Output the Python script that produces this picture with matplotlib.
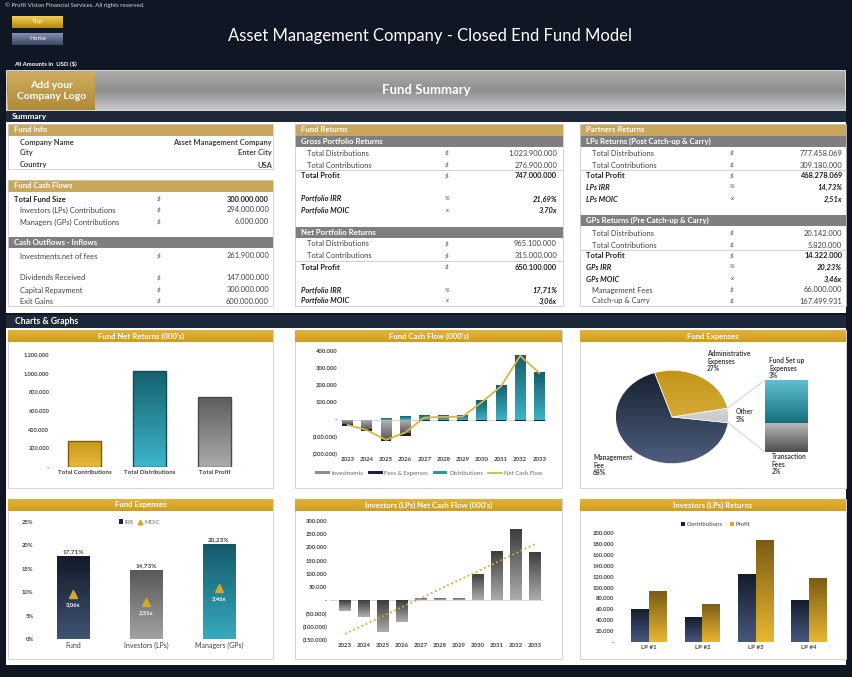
import numpy as np
import matplotlib
matplotlib.use('Agg')
import matplotlib.pyplot as plt
from matplotlib.patches import Rectangle, Patch, ConnectionPatch
from matplotlib.lines import Line2D
from matplotlib.colors import LinearSegmentedColormap

plt.rcParams['font.family'] = ['Lato', 'DejaVu Sans']

W, H = 852, 677

# ---------------- data ----------------
fund_info_labels = ['Company Name', 'City', 'Country']
fund_info_values = ['Asset Management Company', 'Enter City', 'USA']

cash_flow_labels = ['Total Fund Size', 'Investors (LPs) Contributions', 'Managers (GPs) Contributions']
cash_flow_values = [300000000, 294000000, 6000000]

outflow_labels = ['Investments,net of fees', 'Dividends Received', 'Capital Repayment', 'Exit Gains']
outflow_values = [261900000, 147000000, 300000000, 600000000]

gross_values = [1023900000, 276900000, 747000000]   # distributions, contributions, profit
gross_irr, gross_moic = 21.69, 3.70
net_values = [965100000, 315000000, 650100000]
net_irr, net_moic = 17.71, 3.06

lp_values = [777458069, 309180000, 468278069]
lp_irr, lp_moic = 14.73, 2.51
gp_values = [20142000, 5820000, 14322000]
gp_irr, gp_moic = 20.23, 3.46
mgmt_fees, catch_up = 66000000, 167499931

net_ret_cats = ['Total Contributions', 'Total Distributions', 'Total Profit']
net_ret_vals = [276900, 1023900, 747000]

years = ['2023', '2024', '2025', '2026', '2027', '2028', '2029', '2030', '2031', '2032', '2033']
cf_investments = [-25000, -55000, -110000, -80000, 0, 0, 0, 0, 0, 0, 0]
cf_fees = [-10000, -10000, -13000, -14000, -10000, -10000, -10000, -8000, -8000, -8000, -8000]
cf_distributions = [0, 0, 8000, 20000, 27000, 27000, 27000, 115000, 200000, 376000, 278000]
cf_net = [-30000, -61000, -118000, -75000, 12000, 16000, 18000, 102000, 194000, 372000, 272000]

exp_labels = ['Administrative\nExpenses', 'Other', 'Management\nFee']
exp_shares = [27, 5, 68]
other_labels = ['Fund Set up\nExpenses', 'Transaction\nFees']
other_shares = [3, 2]

ret_groups = ['Fund', 'Investors (LPs)', 'Managers (GPs)']
ret_irr = [17.71, 14.73, 20.23]
ret_moic = [3.06, 2.51, 3.46]

lp_net_cf = [-40000, -63000, -119000, -81000, 10000, 10000, 10000, 101000, 187000, 270000, 184000]

lp_names = ['LP #1', 'LP #2', 'LP #3', 'LP #4']
lp_contribs = [61000, 45000, 124000, 77000]
lp_profits = [93000, 70000, 188000, 117000]


def money(v):
    return f'{v:,.0f}'.replace(',', '.')


def pct(v):
    return f'{v:.2f}%'.replace('.', ',')


def mult(v):
    return f'{v:.2f}x'.replace('.', ',')


def acc(v):
    if abs(v) < 1e-9:
        return '-'
    s = f'{abs(v):,.0f}'.replace(',', '.')
    return f'({s})' if v < 0 else s


GOLD_HDR = '#c8a75d'
GRAY_HDR = '#7f7f7f'
LBL = '#404040'

fig = plt.figure(figsize=(W / 100, H / 100), dpi=100)
fig.patch.set_facecolor('#101624')
bg = fig.add_axes([0, 0, 1, 1])
bg.axis('off')


def rect(x, y, w, h, fc, ec='none', lw=0, z=1):
    bg.add_patch(Rectangle((x, y), w, h, facecolor=fc, edgecolor=ec, linewidth=lw, zorder=z))


def grad(x, y, w, h, colors, z=1):
    cmap = LinearSegmentedColormap.from_list('', colors)
    bg.imshow(np.linspace(0, 1, 64).reshape(-1, 1), cmap=cmap, extent=[x, x + w, y + h, y],
              origin='upper', aspect='auto', interpolation='bilinear', zorder=z)


def txt(x, y, s, size=5.4, color=LBL, ha='left', va='center', weight='normal', style='normal', z=5, ls=1.2):
    bg.text(x, y, s, fontsize=size, color=color, ha=ha, va=va, fontweight=weight,
            fontstyle=style, zorder=z, linespacing=ls)


def header(x, y, w, h, s, fc):
    rect(x, y, w, h, fc, z=2)
    txt(x + 6, y + h / 2, s, size=5.6, weight='bold', color='white', z=3)


def row(x0, sx, vx, y, label, sym, val, bold=False, italic=False, indent=True):
    w = 'bold' if bold else 'normal'
    st = 'italic' if italic else 'normal'
    c = '#1e1e1e' if bold else LBL
    txt(x0 + (12 if indent else 6), y, label, weight=w, style=st, color=c)
    txt(sx, y, sym, size=4.6, color=LBL, style='italic')
    txt(vx, y, val, ha='right', weight=w, style=st, color=c)


def hline(x0, x1, y):
    bg.plot([x0, x1], [y, y], color='#c8c8c8', lw=0.6, zorder=3)


# ---------------- header area ----------------
txt(5, 5, '\u00a9 Profit Vision Financial Services. All rights reserved.', size=4.3, color='#d8d8d8')
grad(12, 16, 51, 12, ['#f3cf55', '#b38a0c'])
txt(37.5, 22, 'Top', size=4.6, color='white', ha='center')
grad(12, 33, 51, 12, ['#8090ae', '#3b4864'])
txt(37.5, 39, 'Home', size=4.6, color='white', ha='center')
txt(430, 36, 'Asset Management Company - Closed End Fund Model', size=12, color='white', ha='center')
txt(14, 64, 'All Amounts in  USD ($)', size=4.3, weight='bold', color='white')

rect(6, 70, 840, 41, '#d6d6d6')
grad(7, 71, 838, 39, ['#acacac', '#8e8e8e', '#c8c8c8'], z=2)
grad(8, 72, 87, 38, ['#cfac5e', '#b08a3a'], z=3)
txt(51.5, 91, 'Add your\nCompany Logo', size=7.5, weight='bold', color='white', ha='center', z=4, ls=1.3)
txt(426, 90, 'Fund Summary', size=9.5, weight='bold', color='white', ha='center', z=4)

rect(6, 111, 840, 11, '#1d283b')
txt(12, 117, 'Summary', size=6, weight='bold', color='white')
rect(6, 122, 840, 191, 'white')
rect(6, 315, 840, 13, '#1d283b')
txt(15, 322, 'Charts & Graphs', size=6.2, weight='bold', color='white')
rect(6, 328, 840, 337, 'white')

# ---------------- left table ----------------
header(8, 124, 265, 12, 'Fund Info', GOLD_HDR)
for y, lab, val in zip([142, 153, 165], fund_info_labels, fund_info_values):
    txt(20, y, lab, weight='bold', color=LBL)
    txt(272, y, val, weight='bold', color=LBL, ha='right')
rect(8, 124, 265, 45, 'none', ec='#cccccc', lw=0.6, z=3)

header(8, 180, 265, 12, 'Fund Cash Flows', GOLD_HDR)
for i, (y, lab, val) in enumerate(zip([199, 210, 222], cash_flow_labels, cash_flow_values)):
    row(8, 157, 269, y, lab, '$', money(val), bold=(i == 0), indent=(i != 0))
header(8, 237, 265, 11, 'Cash Outflows - Inflows', GRAY_HDR)
for y, lab, val in zip([256, 278, 290, 301], outflow_labels, outflow_values):
    row(8, 157, 269, y, lab, '$', money(val))
rect(8, 180, 265, 126, 'none', ec='#cccccc', lw=0.6, z=3)

# ---------------- middle table ----------------
mx, msx, mvx = 295, 445, 557
header(295, 124, 268, 12, 'Fund Returns', GOLD_HDR)
header(295, 136, 268, 11, 'Gross Portfolio Returns', GRAY_HDR)
row(mx, msx, mvx, 153, 'Total Distributions', '$', money(gross_values[0]))
row(mx, msx, mvx, 165, 'Total Contributions', '$', money(gross_values[1]))
hline(295, 563, 170)
row(mx, msx, mvx, 176, 'Total Profit', '$', money(gross_values[2]), bold=True, indent=False)
row(mx, msx, mvx, 199, 'Portfolio IRR', '%', pct(gross_irr), bold=True, italic=True, indent=False)
row(mx, msx, mvx, 210, 'Portfolio MOIC', 'x', mult(gross_moic), bold=True, italic=True, indent=False)
header(295, 227, 268, 11, 'Net Portfolio Returns', GRAY_HDR)
row(mx, msx, mvx, 244, 'Total Distributions', '$', money(net_values[0]))
row(mx, msx, mvx, 256, 'Total Contributions', '$', money(net_values[1]))
hline(295, 563, 261)
row(mx, msx, mvx, 267, 'Total Profit', '$', money(net_values[2]), bold=True, indent=False)
row(mx, msx, mvx, 290, 'Portfolio IRR', '%', pct(net_irr), bold=True, italic=True, indent=False)
row(mx, msx, mvx, 301, 'Portfolio MOIC', 'x', mult(net_moic), bold=True, italic=True, indent=False)
rect(295, 124, 268, 182, 'none', ec='#cccccc', lw=0.6, z=3)

# ---------------- right table ----------------
rx, rsx, rvx = 580, 730, 842
header(580, 124, 266, 12, 'Partners Returns', GOLD_HDR)
header(580, 136, 266, 11, 'LPs Returns (Post Catch-up & Carry)', GRAY_HDR)
row(rx, rsx, rvx, 153, 'Total Distributions', '$', money(lp_values[0]))
row(rx, rsx, rvx, 165, 'Total Contributions', '$', money(lp_values[1]))
hline(580, 846, 170)
row(rx, rsx, rvx, 176, 'Total Profit', '$', money(lp_values[2]), bold=True, indent=False)
row(rx, rsx, rvx, 187, 'LPs IRR', '%', pct(lp_irr), bold=True, italic=True, indent=False)
row(rx, rsx, rvx, 199, 'LPs MOIC', 'x', mult(lp_moic), bold=True, italic=True, indent=False)
header(580, 215, 266, 11, 'GPs Returns (Pre Catch-up & Carry)', GRAY_HDR)
row(rx, rsx, rvx, 233, 'Total Distributions', '$', money(gp_values[0]))
row(rx, rsx, rvx, 245, 'Total Contributions', '$', money(gp_values[1]))
hline(580, 846, 250)
row(rx, rsx, rvx, 256, 'Total Profit', '$', money(gp_values[2]), bold=True, indent=False)
row(rx, rsx, rvx, 267, 'GPs IRR', '%', pct(gp_irr), bold=True, italic=True, indent=False)
row(rx, rsx, rvx, 279, 'GPs MOIC', 'x', mult(gp_moic), bold=True, italic=True, indent=False)
row(rx, rsx, rvx, 290, 'Management Fees', '$', money(mgmt_fees))
row(rx, rsx, rvx, 301, 'Catch-up & Carry', '$', money(catch_up))
rect(580, 124, 266, 182, 'none', ec='#cccccc', lw=0.6, z=3)


# ---------------- chart panels ----------------
def panel(x, y, w, h, title):
    rect(x, y, w, h, 'white', ec='#d4d4d4', lw=0.7, z=2)
    grad(x, y, w, 12, ['#e3b23c', '#cf9d1e'], z=3)
    txt(x + w / 2, y + 6, title, size=5.6, weight='bold', color='white', ha='center', z=4)


panel(8, 330, 265, 158, "Fund Net Returns (000's)")
panel(295, 330, 267, 158, "Fund Cash Flow (000's)")
panel(580, 330, 266, 158, 'Fund Expenses')
panel(8, 499, 265, 160, 'Fund Expenses')
panel(295, 499, 267, 160, "Investors (LPs) Net Cash Flow (000's)")
panel(580, 499, 266, 160, 'Investors (LPs) Returns')

# pie labels
txt(707, 350, 'Administrative\nExpenses\n27%', size=4.8, weight='bold', va='top', ls=1.1)
txt(769, 357, 'Fund Set up\nExpenses\n3%', size=4.8, weight='bold', va='top', ls=1.1)
txt(736, 408, 'Other\n5%', size=4.8, weight='bold', va='top', ls=1.1)
txt(593, 454, 'Management\nFee\n68%', size=4.8, weight='bold', va='top', ls=1.1)
txt(772, 453, 'Transaction\nFees\n2%', size=4.8, weight='bold', va='top', ls=1.1)

bg.set_xlim(0, W)
bg.set_ylim(H, 0)


def axes_px(x0, y0, x1, y1):
    ax = fig.add_axes([x0 / W, 1 - y1 / H, (x1 - x0) / W, (y1 - y0) / H])
    ax.patch.set_alpha(0)
    for s in ax.spines.values():
        s.set_visible(False)
    ax.tick_params(length=0, labelsize=4.3, labelcolor=LBL, pad=2)
    return ax


def fill_grad(ax, patch, colors, extent=None):
    cmap = LinearSegmentedColormap.from_list('', colors)
    if extent is None:
        x, y, w, h = patch.get_x(), patch.get_y(), patch.get_width(), patch.get_height()
        if abs(h) < 1e-9:
            return
        extent = [x, x + w, min(y, y + h), max(y, y + h)]
    im = ax.imshow(np.linspace(0, 1, 64).reshape(-1, 1), cmap=cmap, extent=extent, origin='upper',
                   aspect='auto', interpolation='bilinear', zorder=patch.get_zorder() - 0.1)
    im.set_clip_path(patch)
    patch.set_facecolor('none')


def set_ticks(ax, axis, vals, labels, size=4.3, weight='bold'):
    if axis == 'x':
        ax.set_xticks(vals, labels=labels, fontsize=size, fontweight=weight, color=LBL)
    else:
        ax.set_yticks(vals, labels=labels, fontsize=size, fontweight=weight, color=LBL)


# chart 1: fund net returns
ax1 = axes_px(52, 355, 247, 467)
b1 = ax1.bar(range(3), net_ret_vals, width=0.5, edgecolor=['#7a5c0e', '#0e4d5a', '#4a4a4a'],
             linewidth=1.0, zorder=3)
for bar, cols in zip(b1, [['#c8981c', '#e9b93a'], ['#16616f', '#3cb6c9'], ['#5e5e5e', '#ababab']]):
    fill_grad(ax1, bar, cols)
ax1.axhline(0, color='#d9d9d9', lw=0.8, zorder=1)
ax1.set_xlim(-0.5, 2.5)
ax1.set_ylim(0, 1200000)
t = list(range(0, 1200001, 200000))
set_ticks(ax1, 'y', t, [acc(v) for v in t], size=4.1)
set_ticks(ax1, 'x', range(3), net_ret_cats, size=4.4)

# chart 2: fund cash flow
x = np.arange(len(years))
ax2 = axes_px(340, 351, 547, 454)
b_inv = ax2.bar(x, cf_investments, 0.56, zorder=3)
b_fee = ax2.bar(x, cf_fees, 0.56, bottom=cf_investments, color='#1b2437', zorder=3)
b_dis = ax2.bar(x, cf_distributions, 0.56, zorder=3)
for bar in b_inv:
    fill_grad(ax2, bar, ['#b4b4b4', '#5c5c5c'])
for bar in b_dis:
    fill_grad(ax2, bar, ['#175e6c', '#3bb3c6'])
ax2.plot(x, cf_net, color='#d8b444', lw=1.3, zorder=4)
ax2.axhline(0, color='#d0d0d0', lw=0.6, zorder=1)
ax2.set_xlim(-0.4, 10.4)
ax2.set_ylim(-200000, 400000)
t = list(range(-200000, 400001, 100000))
set_ticks(ax2, 'y', t, [acc(v) for v in t], size=4.2)
set_ticks(ax2, 'x', x, years, size=4.4)
ax2.legend(handles=[Patch(facecolor='#8c8c8c', label='Investments'),
                    Patch(facecolor='#1b2437', label='Fees & Expenses'),
                    Patch(facecolor='#2c95a8', label='Distributions'),
                    Line2D([], [], color='#d8b444', lw=1.3, label='Net Cash Flow')],
           loc='center', bbox_to_anchor=(0.43, -0.185), ncol=4, frameon=False, fontsize=4.3,
           handlelength=2.4, handleheight=0.5, handletextpad=0.3, columnspacing=0.8,
           labelcolor='#6a6a6a')

# chart 3: fund expenses pie of pie
ax3 = axes_px(615, 370, 729, 464)
wedges, _ = ax3.pie(exp_shares, colors=['#d4a52a', '#d4d4d4', '#1e2840'], startangle=108,
                    counterclock=False, radius=1, wedgeprops=dict(linewidth=0.4, edgecolor='white'))
for wdg, cols in zip(wedges, [['#c39419', '#eac155'], ['#f0f0f0', '#a9a9a9'], ['#18202f', '#4d5e7e']]):
    fill_grad(ax3, wdg, cols, extent=[-1, 1, -1, 1])
ax3.set_aspect('auto')
ax3.set_xlim(-1.01, 1.01)
ax3.set_ylim(-1.01, 1.01)

ax3b = axes_px(765, 380, 808, 452)
s_bot = ax3b.bar(0, other_shares[1], width=1, zorder=3)
s_top = ax3b.bar(0, other_shares[0], width=1, bottom=other_shares[1], zorder=3)
fill_grad(ax3b, s_bot[0], ['#b8b8b8', '#4e4e4e'])
fill_grad(ax3b, s_top[0], ['#62c1d2', '#16707f'])
ax3b.set_xlim(-0.5, 0.5)
ax3b.set_ylim(0, sum(other_shares))
ax3b.set_xticks([])
ax3b.set_yticks([])

ow = wedges[1]
for ang, yb in [(ow.theta2, sum(other_shares)), (ow.theta1, 0)]:
    con = ConnectionPatch(xyA=(np.cos(np.radians(ang)), np.sin(np.radians(ang))), coordsA=ax3.transData,
                          xyB=(-0.5, yb), coordsB=ax3b.transData, color='#d0d0d0', lw=0.7)
    fig.add_artist(con)

# chart 4: IRR / MOIC
ax4 = axes_px(36.5, 522, 255.5, 639)
b4 = ax4.bar(range(3), np.array(ret_irr) / 100, width=0.45, zorder=3)
for bar, cols in zip(b4, [['#131a29', '#3f5374'], ['#585858', '#a3a3a3'], ['#14596a', '#37aabe']]):
    fill_grad(ax4, bar, cols)
for i, v in enumerate(ret_irr):
    ax4.text(i, v / 100 + 0.005, pct(v), ha='center', va='bottom', fontsize=4.6, fontweight='bold', color=LBL)
ax4.axhline(0, color='#d9d9d9', lw=0.6, zorder=1)
ax4.set_xlim(-0.5, 2.5)
ax4.set_ylim(0, 0.25)
t = [0, 0.05, 0.10, 0.15, 0.20, 0.25]
set_ticks(ax4, 'y', t, [f'{round(v * 100)}%' for v in t], size=4.2)
set_ticks(ax4, 'x', range(3), ret_groups, size=5.0, weight='normal')
ax4b = ax4.twinx()
for s in ax4b.spines.values():
    s.set_visible(False)
ax4b.set_yticks([])
ax4b.set_ylim(0, 8)
ax4b.plot(range(3), ret_moic, linestyle='none', marker='^', color='#d4a82a', markersize=6, zorder=5)
for i, m in enumerate(ret_moic):
    ax4b.text(i, m - 0.72, mult(m), ha='center', va='center', fontsize=4.2, fontweight='bold', color='white', zorder=6)
ax4.legend(handles=[Patch(facecolor='#1b2437', label='IRR'),
                    Line2D([], [], linestyle='none', marker='^', color='#d4a82a', markersize=3.5, label='MOIC')],
           loc='center', bbox_to_anchor=(0.47, 1.0), ncol=2, frameon=False, fontsize=4.2,
           handlelength=0.7, handleheight=0.7, handletextpad=0.3, columnspacing=0.8, labelcolor='#6a6a6a')

# chart 5: LPs net cash flow
ax5 = axes_px(330, 521, 542.6, 640)
b5 = ax5.bar(x, lp_net_cf, 0.62, zorder=3)
for bar in b5:
    fill_grad(ax5, bar, ['#3c3c3c', '#acacac'])
coef = np.polyfit(x, lp_net_cf, 1)
ax5.plot(x, np.polyval(coef, x), linestyle=(0, (1, 1.5)), color='#d4aa30', lw=1.3, zorder=4)
ax5.axhline(0, color='#d0d0d0', lw=0.6, zorder=1)
ax5.set_xlim(-0.8, 10.4)
ax5.set_ylim(-150000, 300000)
t = list(range(-150000, 300001, 50000))
set_ticks(ax5, 'y', t, [acc(v) for v in t], size=4.2)
set_ticks(ax5, 'x', x, years, size=4.4)

# chart 6: LPs returns
ax6 = axes_px(617, 533, 841, 642)
gx = np.arange(len(lp_names))
b6a = ax6.bar(gx - 0.165, lp_contribs, 0.33, zorder=3)
b6b = ax6.bar(gx + 0.165, lp_profits, 0.33, zorder=3)
for bar in b6a:
    fill_grad(ax6, bar, ['#151d2c', '#46587c'])
for bar in b6b:
    fill_grad(ax6, bar, ['#7b5c14', '#e8b632'])
ax6.axhline(0, color='#d9d9d9', lw=0.6, zorder=1)
ax6.set_xlim(-0.6, 3.6)
ax6.set_ylim(0, 200000)
t = list(range(0, 200001, 20000))
set_ticks(ax6, 'y', t, [acc(v) for v in t], size=4.2)
set_ticks(ax6, 'x', gx, lp_names, size=4.4)
ax6.legend(handles=[Patch(facecolor='#1b2437', label='Contributions'),
                    Patch(facecolor='#d9a92a', label='Profit')],
           loc='center', bbox_to_anchor=(0.44, 1.075), ncol=2, frameon=False, fontsize=4.3,
           handlelength=0.7, handleheight=0.7, handletextpad=0.3, columnspacing=1.2, labelcolor='#404040')

fig.savefig('out.png', dpi=100, facecolor=fig.get_facecolor())
